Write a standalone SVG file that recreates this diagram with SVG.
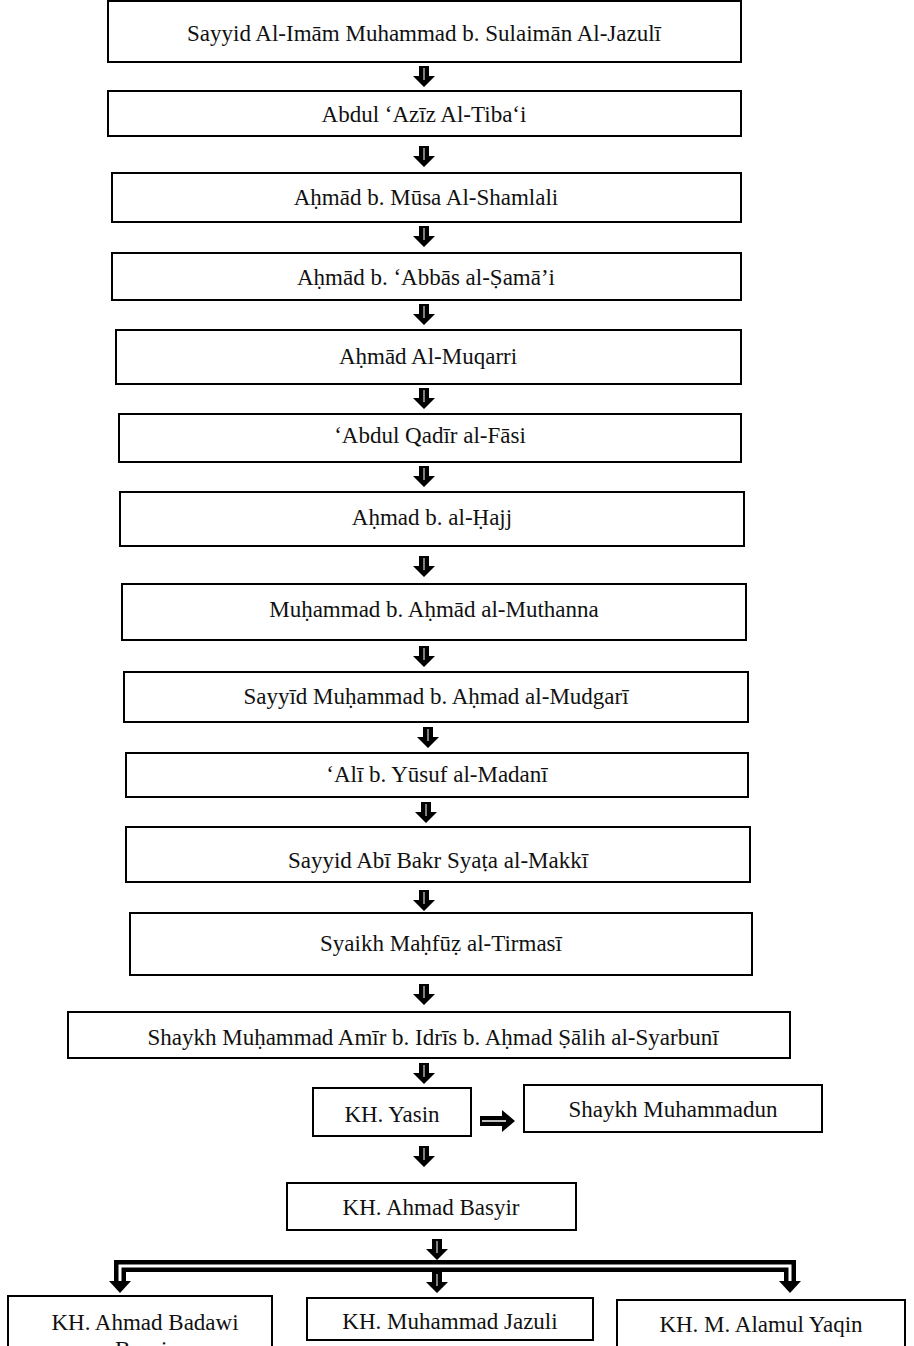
<svg xmlns="http://www.w3.org/2000/svg" xmlns:xlink="http://www.w3.org/1999/xlink" width="914" height="1346" viewBox="0 0 914 1346">
<style>
.box{fill:#fff;stroke:#000;stroke-width:2}
.t{font-family:"Liberation Serif","DejaVu Serif",serif;font-size:23px;fill:#111;text-anchor:middle}
</style>
<defs>
<g id="darr">
<polygon points="-5,0 5,0 5,10 11,10 0,21 -11,10 -5,10" fill="#000"/>
<line x1="0" y1="2" x2="0" y2="14" stroke="#fff" stroke-width="1"/>
</g>
<g id="rarr">
<polygon points="0,-5 22,-5 22,-11 35,0 22,11 22,5 0,5" fill="#000"/>
<line x1="2" y1="0" x2="26" y2="0" stroke="#fff" stroke-width="1.5"/>
</g>
</defs>
<rect width="914" height="1346" fill="#fff"/>
<g id="connectors">
<use xlink:href="#darr" x="424" y="66"/>
<use xlink:href="#darr" x="424" y="146"/>
<use xlink:href="#darr" x="424" y="226"/>
<use xlink:href="#darr" x="424" y="304"/>
<use xlink:href="#darr" x="424" y="388"/>
<use xlink:href="#darr" x="424" y="466"/>
<use xlink:href="#darr" x="424" y="556"/>
<use xlink:href="#darr" x="424" y="646"/>
<use xlink:href="#darr" x="428" y="727"/>
<use xlink:href="#darr" x="426" y="802"/>
<use xlink:href="#darr" x="424" y="890"/>
<use xlink:href="#darr" x="424" y="984"/>
<use xlink:href="#darr" x="424" y="1063"/>
<use xlink:href="#darr" x="424" y="1146"/>
<use xlink:href="#rarr" x="480" y="1121"/>
<use xlink:href="#darr" x="437" y="1239"/>
<path d="M120 1284 V1266 H790 V1284" fill="none" stroke="#000" stroke-width="12"/>
<path d="M120 1284 V1266 H790 V1284" fill="none" stroke="#fff" stroke-width="3"/>
<polygon points="109,1281 131,1281 120,1293" fill="#000"/>
<polygon points="779,1281 801,1281 790,1293" fill="#000"/>
<use xlink:href="#darr" x="437" y="1272"/>
</g>
<g id="n1"><rect class="box" x="108" y="1" width="633" height="61"/><text class="t" x="424" y="41">Sayyid Al-Imām Muhammad b. Sulaimān Al-Jazulī</text></g>
<g id="n2"><rect class="box" x="108" y="91" width="633" height="45"/><text class="t" x="424" y="122">Abdul ‘Azīz Al-Tiba‘i</text></g>
<g id="n3"><rect class="box" x="112" y="173" width="629" height="49"/><text class="t" x="426" y="205">Aḥmād b. Mūsa Al-Shamlali</text></g>
<g id="n4"><rect class="box" x="112" y="253" width="629" height="47"/><text class="t" x="426" y="285">Aḥmād b. ‘Abbās al-Ṣamā’i</text></g>
<g id="n5"><rect class="box" x="116" y="330" width="625" height="54"/><text class="t" x="428" y="364">Aḥmād Al-Muqarri</text></g>
<g id="n6"><rect class="box" x="119" y="414" width="622" height="48"/><text class="t" x="430" y="443">‘Abdul Qadīr al-Fāsi</text></g>
<g id="n7"><rect class="box" x="120" y="492" width="624" height="54"/><text class="t" x="432" y="525">Aḥmad b. al-Ḥajj</text></g>
<g id="n8"><rect class="box" x="122" y="584" width="624" height="56"/><text class="t" x="434" y="617">Muḥammad b. Aḥmād al-Muthanna</text></g>
<g id="n9"><rect class="box" x="124" y="672" width="624" height="50"/><text class="t" x="436" y="704">Sayyīd Muḥammad b. Aḥmad al-Mudgarī</text></g>
<g id="n10"><rect class="box" x="126" y="753" width="622" height="44"/><text class="t" x="437" y="782">‘Alī b. Yūsuf al-Madanī</text></g>
<g id="n11"><rect class="box" x="126" y="827" width="624" height="55"/><text class="t" x="438" y="868">Sayyid Abī Bakr Syaṭa al-Makkī</text></g>
<g id="n12"><rect class="box" x="130" y="913" width="622" height="62"/><text class="t" x="441" y="951">Syaikh Maḥfūẓ al-Tirmasī</text></g>
<g id="n13"><rect class="box" x="68" y="1012" width="722" height="46"/><text class="t" x="433" y="1045">Shaykh Muḥammad Amīr b. Idrīs b. Aḥmad Ṣālih al-Syarbunī</text></g>
<g id="n14"><rect class="box" x="313" y="1088" width="158" height="48"/><text class="t" x="392" y="1122">KH. Yasin</text></g>
<g id="n15"><rect class="box" x="524" y="1085" width="298" height="47"/><text class="t" x="673" y="1117">Shaykh Muhammadun</text></g>
<g id="n16"><rect class="box" x="287" y="1183" width="289" height="47"/><text class="t" x="431" y="1215">KH. Ahmad Basyir</text></g>
<g id="n17"><rect class="box" x="8" y="1296" width="264" height="60"/><text class="t" x="145" y="1330">KH. Ahmad Badawi</text><text class="t" x="145" y="1357">Basyir</text></g>
<g id="n18"><rect class="box" x="307" y="1298" width="286" height="42"/><text class="t" x="450" y="1329">KH. Muhammad Jazuli</text></g>
<g id="n19"><rect class="box" x="617" y="1300" width="288" height="56"/><text class="t" x="761" y="1332">KH. M. Alamul Yaqin</text></g>
</svg>
